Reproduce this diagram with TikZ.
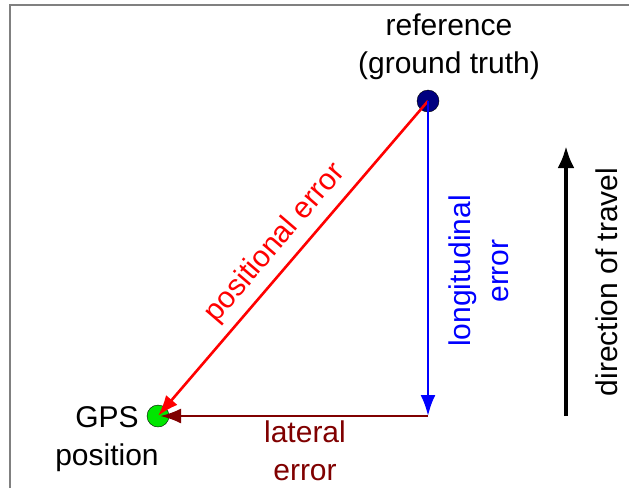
\documentclass[tikz,border=0pt]{standalone}
\usepackage{fontspec}
\setmainfont{Liberation Sans}
\usetikzlibrary{arrows.meta}
\definecolor{laterr}{RGB}{128,0,0}
\definecolor{refnavy}{RGB}{0,0,128}
\definecolor{gpsgreen}{RGB}{0,230,0}
\begin{document}
\begin{tikzpicture}[x=1pt, y=-1pt,
  dot/.style={circle, draw=black, inner sep=0pt, minimum size=22pt},
  err/.style={line width=2.6pt, -{Latex[length=21pt, width=15pt]}},
  lbl/.style={font=\fontsize{30}{38}\selectfont, align=center, inner sep=0pt}]
  \useasboundingbox (0,0) rectangle (629,488);

  % frame
  \draw[gray, line width=2.5pt] (10,488) -- (10,5) -- (629,5);

  % points
  \node[dot, fill=refnavy] (ref) at (428,101) {};
  \node[dot, fill=gpsgreen] (gps) at (158,416) {};
  \coordinate (corner) at (428,416);

  \node[lbl] (reflbl) at (449,47) {reference\\(ground truth)};
  \node[lbl] (gpslbl) at (107,439) {GPS\\position};

  % errors
  \draw[err, red] (ref.center) -- (gps.center)
    node[lbl, pos=0.5, rotate=49.4, above=8pt, text=red] (poslbl) {positional error};
  \draw[err, blue] (ref.center) -- (corner);
  \draw[err, laterr] (corner) -- ([xshift=2pt]gps.center);

  \node[lbl, rotate=90, text=blue] (lonlbl) at (479,271) {longitudinal\\error};
  \node[lbl, text=laterr] (latlbl) at (305,451) {lateral\\error};

  % travel
  \coordinate (travel0) at (566,416);
  \coordinate (travel1) at (566,146);
  \draw[line width=4pt, -{Latex[length=22pt, width=17pt]}] (travel0) -- (travel1);
  \node[lbl, rotate=90] (travlbl) at (607,282) {direction of travel};
\end{tikzpicture}
\end{document}
